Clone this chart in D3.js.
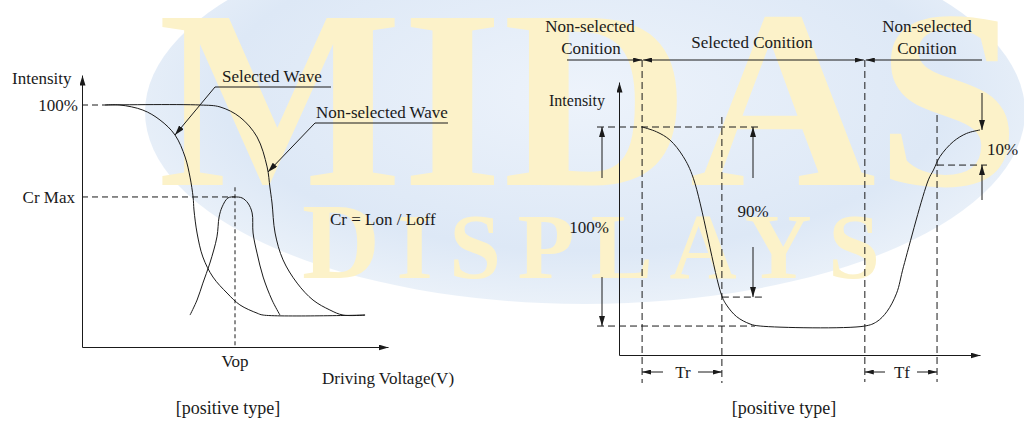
<!DOCTYPE html>
<html>
<head>
<meta charset="utf-8">
<script src="https://cdn.jsdelivr.net/npm/d3@7"></script>
<style>
  html, body { margin: 0; padding: 0; background: #fff; }
  svg { display: block; }
  text { font-family: "Liberation Serif", "Times New Roman", serif; fill: #1a1a1a; }
</style>
</head>
<body>
<svg id="chart" width="1024" height="423"></svg>
<script>
// ---------------- DATA ----------------
// Left panel: intensity (%) vs driving voltage (arbitrary 0-100)
const selectedWave = [
  [7.5,100],[12.4,100],[19.9,97.9],[25.5,93.8],[30.4,87.6],[33.7,78.5],[35.3,70.2],
  [36.3,62.0],[36.6,56.6],[37.6,47.1],[39.5,37.2],[42.8,28.9],[47.4,22.3],[51.6,17.4],
  [57.2,14.0],[59.2,13.2],[92.5,13.2]
];
const nonSelectedWave = [
  [7.5,100],[38.6,100],[45.1,99.2],[51.6,95.0],[57.2,86.8],[60.5,74.4],[61.4,66.1],
  [62.1,59.5],[63.1,47.1],[65.7,36.0],[70.3,26.4],[75.5,19.4],[81.0,15.3],[85.3,13.2],[92.5,13.2]
];
const contrastCurve = [
  [35.3,13.2],[37.6,19.4],[39.5,26.4],[41.8,34.7],[44.1,45.5],[44.8,53.7],[45.8,57.9],
  [47.7,61.6],[50.0,62.0],[52.3,61.6],[54.2,59.5],[55.6,55.4],[55.9,47.1],[57.2,38.8],
  [59.2,28.9],[62.1,19.4],[64.7,13.2]
];
const vop = 50;
const crMax = 62;
const fullLevel = 100;
const leftTickLabels = ["100%", "Cr Max"];
const leftTexts = { yTitle: "Intensity", xTitle: "Driving Voltage(V)", vop: "Vop",
  selected: "Selected Wave", nonSelected: "Non-selected Wave", cr: "Cr = Lon / Loff",
  caption: "[positive type]" };

// Right panel: intensity vs time (arbitrary 0-100)
const responseCurve = [
  [6.4,100],[10.4,97.9],[14.1,94.3],[17.8,87.0],[20.6,77.5],[28.4,26.3],[29.8,21.9],
  [32.6,16.8],[36.3,13.6],[39.1,12.7],[68.1,12.7],[71.4,14.6],[74.2,19.0],[76.9,27.1],
  [78.8,38.7],[85.7,76.8],[87.1,81.1],[88.9,87.0],[92.6,93.6],[96.3,97.2],[100,98.7]
];
const tSelectOn = 6.4, tRiseEnd = 28.5, tSelectOff = 68.1, tFallEnd = 88.1;
const highLevel = 100, lowLevel = 12.7, level90 = 25.4, level10 = 83.3, finalLevel = 98.7;
const rightTexts = { yTitle: "Intensity", full: "100%", p90: "90%", p10: "10%",
  tr: "Tr", tf: "Tf", nonSel: ["Non-selected", "Conition"], sel: "Selected Conition",
  caption: "[positive type]" };
const watermark = ["MIDAS", "D", "ISPLAYS"];

// ---------------- DRAW ----------------
const svg = d3.select("#chart");
const defs = svg.append("defs");

// watermark background
const rg = defs.append("radialGradient").attr("id","bg").attr("cx","0.5").attr("cy","0.45").attr("r","0.55");
rg.append("stop").attr("offset","0%").attr("stop-color","#edf3fb");
rg.append("stop").attr("offset","75%").attr("stop-color","#dde8f6");
rg.append("stop").attr("offset","100%").attr("stop-color","#eaf1f9");
const wm = svg.append("g").attr("class","watermark");
wm.append("ellipse").attr("cx",585).attr("cy",112).attr("rx",440).attr("ry",192)
  .attr("fill","url(#bg)");
wm.append("text").attr("x",158).attr("y",185).attr("font-size",255).attr("font-weight","bold")
  .attr("textLength",862).attr("lengthAdjust","spacingAndGlyphs")
  .style("fill","#fcf2c9").text(watermark[0]);
const dt = wm.append("text").attr("x",302).attr("y",278).attr("textLength",578)
  .attr("font-weight","bold").style("fill","#fcf2c9");
dt.append("tspan").attr("font-size",108).text(watermark[1]);
dt.append("tspan").attr("font-size",93).text(watermark[2]);

function marker(id, w, h) {
  defs.append("marker").attr("id", id).attr("viewBox", `0 0 ${w} ${h}`)
    .attr("refX", w).attr("refY", h/2).attr("markerWidth", w).attr("markerHeight", h)
    .attr("markerUnits","userSpaceOnUse").attr("orient","auto-start-reverse")
    .append("path").attr("d", `M0,0L${w},${h/2}L0,${h}Z`).attr("fill","#1a1a1a");
}
marker("arr", 10, 6);
marker("arrS", 9, 5);

const ink = "#1a1a1a";
function line(g, x1, y1, x2, y2, opts = {}) {
  const l = g.append("line").attr("x1",x1).attr("y1",y1).attr("x2",x2).attr("y2",y2)
    .attr("stroke", ink).attr("stroke-width", 1);
  if (opts.dash) l.attr("stroke-dasharray", opts.dash);
  if (opts.end) l.attr("marker-end", `url(#${opts.end})`);
  if (opts.start) l.attr("marker-start", `url(#${opts.start})`);
  return l;
}
function txt(g, x, y, s, anchor = "start", size = 17) {
  return g.append("text").attr("x",x).attr("y",y).attr("text-anchor",anchor)
    .attr("font-size",size).text(s);
}

// ===== Left panel =====
const L = svg.append("g");
const lx = d3.scaleLinear().domain([0,100]).range([82,388]);
const ly = d3.scaleLinear().domain([0,100]).range([347,105]);
const lyTop = 112.4;

const lxAxis = L.append("g").attr("transform",`translate(0,${ly(0)})`)
  .call(d3.axisBottom(lx).tickValues([]).tickSizeOuter(0));
lxAxis.select(".domain").attr("stroke",ink).attr("marker-end","url(#arr)");
const lyAxis = L.append("g").attr("transform",`translate(${lx(0)},0)`)
  .call(d3.axisLeft(ly.copy().domain([0,lyTop]).range([347,75])).tickValues([]).tickSizeOuter(0));
lyAxis.select(".domain").attr("stroke",ink).attr("marker-end","url(#arr)");

const lDash = "6,4";
line(L, lx(0), ly(fullLevel), lx(selectedWave[0][0]), ly(fullLevel), {dash:lDash});
line(L, lx(0), ly(crMax), lx(vop), ly(crMax), {dash:lDash});
line(L, lx(vop), ly(crMax+4), lx(vop), ly(0), {dash:"4,3"});

const lLine = d3.line().x(d=>lx(d[0])).y(d=>ly(d[1])).curve(d3.curveCatmullRom.alpha(0.5));
[selectedWave, nonSelectedWave, contrastCurve].forEach(s => {
  L.append("path").attr("d", lLine(s)).attr("fill","none").attr("stroke",ink).attr("stroke-width",1);
});

txt(L, 12, 84, leftTexts.yTitle);
txt(L, 78, ly(fullLevel), leftTickLabels[0], "end").attr("dy","0.35em");
txt(L, 75, ly(crMax), leftTickLabels[1], "end").attr("dy","0.35em");
txt(L, lx(vop), 367, leftTexts.vop, "middle");
txt(L, 322, 384, leftTexts.xTitle);
txt(L, 228, 414, leftTexts.caption, "middle", 18);

// annotations
txt(L, 222, 82, leftTexts.selected);
line(L, 215, 87, 331, 87);
line(L, 215, 87, 175, 135, {end:"arr"});
txt(L, 316, 118, leftTexts.nonSelected);
line(L, 315, 123, 448, 123);
line(L, 315, 123, 268, 172, {end:"arr"});
txt(L, 330, 225, leftTexts.cr);

// ===== Right panel =====
const R = svg.append("g");
const rx = d3.scaleLinear().domain([0,100]).range([619,980]);
const ry = d3.scaleLinear().domain([0,100]).range([355,127]);
const ryTop = 119.7;

const rxAxis = R.append("g").attr("transform",`translate(0,${ry(0)})`)
  .call(d3.axisBottom(rx).tickValues([]).tickSizeOuter(0));
rxAxis.select(".domain").attr("stroke",ink).attr("marker-end","url(#arr)");
const ryAxis = R.append("g").attr("transform",`translate(${rx(0)},0)`)
  .call(d3.axisLeft(ry.copy().domain([0,ryTop]).range([355,82])).tickValues([]).tickSizeOuter(0));
ryAxis.select(".domain").attr("stroke",ink).attr("marker-end","url(#arr)");

const rDash = "7,4";
// verticals
line(R, rx(tSelectOn), 60, rx(tSelectOn), 383, {dash:rDash});
line(R, rx(tSelectOff), 60, rx(tSelectOff), 382, {dash:rDash});
line(R, rx(tRiseEnd), 117, rx(tRiseEnd), 383, {dash:rDash});
line(R, rx(tFallEnd), 115, rx(tFallEnd), 382, {dash:rDash});
// horizontals
line(R, 597, ry(highLevel), 758, ry(highLevel), {dash:rDash});
line(R, 597, ry(lowLevel), 755, ry(lowLevel), {dash:rDash});
line(R, rx(tRiseEnd), ry(level90), 762, ry(level90), {dash:rDash});
line(R, rx(tFallEnd), ry(level10), 987, ry(level10), {dash:rDash});

const rLine = d3.line().x(d=>rx(d[0])).y(d=>ry(d[1])).curve(d3.curveCatmullRom.alpha(0.5));
R.append("path").attr("d", rLine(responseCurve)).attr("fill","none").attr("stroke",ink).attr("stroke-width",1);

// header arrows
const hy = 60;
line(R, 567, hy, rx(tSelectOn), hy, {end:"arrS"});
line(R, rx(tSelectOn)+1, hy, rx(tSelectOff)-1, hy, {start:"arrS", end:"arrS"});
line(R, 982, hy, rx(tSelectOff)+1, hy, {end:"arrS"});
txt(R, 590, 32, rightTexts.nonSel[0], "middle");
txt(R, 591, 54, rightTexts.nonSel[1], "middle");
txt(R, 752, 48, rightTexts.sel, "middle");
txt(R, 927, 32, rightTexts.nonSel[0], "middle");
txt(R, 927, 54, rightTexts.nonSel[1], "middle");
txt(R, 549, 106, rightTexts.yTitle, "start", 16);

// 100% arrow
line(R, 602, 178, 602, ry(highLevel), {end:"arr"});
line(R, 602, 277, 602, ry(lowLevel), {end:"arr"});
txt(R, 589, 233, rightTexts.full, "middle");
// 90% arrow
line(R, 753, 178, 753, ry(highLevel), {end:"arr"});
line(R, 753, 247, 753, ry(level90), {end:"arr"});
txt(R, 753, 217, rightTexts.p90, "middle");
// 10% arrows
line(R, 982, 93, 982, ry(finalLevel), {end:"arr"});
line(R, 982, 200, 982, ry(level10), {end:"arr"});
txt(R, 987, 155, rightTexts.p10, "start");

// Tr / Tf
const ty = 372;
line(R, 663, ty, rx(tSelectOn), ty, {end:"arrS"});
line(R, 698, ty, rx(tRiseEnd), ty, {end:"arrS"});
txt(R, 683, 378, rightTexts.tr, "middle");
line(R, 885, ty, rx(tSelectOff), ty, {end:"arrS"});
line(R, 917, ty, rx(tFallEnd), ty, {end:"arrS"});
txt(R, 902, 378, rightTexts.tf, "middle");

txt(R, 784, 414, rightTexts.caption, "middle", 18);
</script>
</body>
</html>
